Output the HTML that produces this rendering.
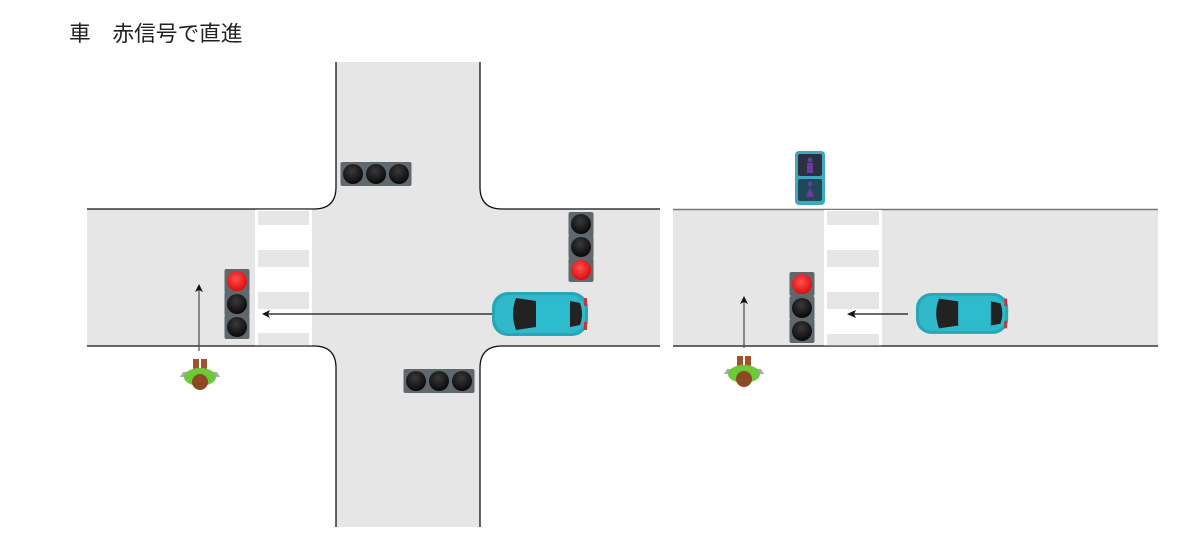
<!DOCTYPE html>
<html><head><meta charset="utf-8"><style>
html,body{margin:0;padding:0;background:#fff;width:1200px;height:560px;overflow:hidden}
</style></head><body>
<svg width="1200" height="560" viewBox="0 0 1200 560" xmlns="http://www.w3.org/2000/svg">
<defs>
  <radialGradient id="blk" cx="0.45" cy="0.35" r="0.7"><stop offset="0" stop-color="#3a3a3a"/><stop offset="1" stop-color="#050505"/></radialGradient>
  <radialGradient id="red" cx="0.45" cy="0.4" r="0.7"><stop offset="0" stop-color="#ff5050"/><stop offset="1" stop-color="#d80000"/></radialGradient>
  <g id="lamp"><rect x="-12.5" y="-12" width="25" height="24" rx="2" fill="#5f686c"/><circle r="10" fill="url(#blk)"/></g>
  <g id="lampR"><rect x="-12.5" y="-12" width="25" height="24" rx="2" fill="#5f686c"/><circle r="10" fill="url(#red)"/></g>
  <g id="car">
    <rect x="0" y="0" width="96" height="44" rx="16" fill="#27a6b8"/>
    <rect x="3" y="3" width="90" height="38" rx="14" fill="#2fb9cb"/>
    <path d="M24 6 L44 9 L44 35 L24 38 Q18 22 24 6Z" fill="#222"/>
    <rect x="44" y="9" width="34" height="26" rx="3" fill="#2cbccd"/>
    <path d="M78 9 L88 11 Q92 22 88 33 L78 35Z" fill="#222"/>
    <rect x="92" y="6" width="3" height="8" fill="#c33"/><rect x="92" y="30" width="3" height="8" fill="#c33"/>
  </g>
  <g id="ped">
    <path d="M-17 0 L17 0 L20 5 L-20 5Z" fill="#aaa"/>
    <rect x="-7" y="-13" width="6" height="11" fill="#a0522d"/><rect x="1" y="-13" width="6" height="11" fill="#a0522d"/>
    <ellipse cx="0" cy="5" rx="16" ry="9" fill="#6bc93a"/>
    <circle cx="0" cy="10" r="8" fill="#8b4a22"/>
  </g>
</defs>
<text x="69" y="41" font-family="'Liberation Sans','Noto Sans CJK JP',sans-serif" font-size="21.7" fill="#222">車　赤信号で直進</text>

<path d="M87 209 L314 209 Q336 209 336 187 L336 62 L480 62 L480 187 Q480 209 502 209 L660 209 L660 346 L502 346 Q480 346 480 368 L480 527 L336 527 L336 368 Q336 346 314 346 L87 346Z" fill="#e6e6e6"/>
<path d="M87 209 L314 209 Q336 209 336 187 L336 62 M480 62 L480 187 Q480 209 502 209 L660 209 M660 346 L502 346 Q480 346 480 368 L480 527 M336 527 L336 368 Q336 346 314 346 L87 346" fill="none" stroke="#111" stroke-width="1.3"/>
<rect x="255" y="209.7" width="57" height="135.6" fill="#fff"/>
<g fill="#e6e6e6"><rect x="258" y="211" width="51" height="14"/><rect x="258" y="250" width="51" height="17"/><rect x="258" y="292" width="51" height="17"/><rect x="258" y="333" width="51" height="12"/></g>

<rect x="673" y="209" width="485" height="137" fill="#e6e6e6"/>
<line x1="673" y1="209.5" x2="1158" y2="209.5" stroke="#777" stroke-width="1.5"/>
<line x1="673" y1="346" x2="1158" y2="346" stroke="#111" stroke-width="1.3"/>
<rect x="824" y="210" width="58" height="135.5" fill="#fff"/>
<g fill="#e6e6e6"><rect x="827" y="211" width="52" height="14"/><rect x="827" y="250" width="52" height="17"/><rect x="827" y="292" width="52" height="17"/><rect x="827" y="334" width="52" height="11"/></g>

<use href="#lamp" x="353" y="174"/><use href="#lamp" x="376" y="174"/><use href="#lamp" x="399" y="174"/>
<use href="#lamp" x="416" y="381"/><use href="#lamp" x="439" y="381"/><use href="#lamp" x="462" y="381"/>
<use href="#lamp" x="581" y="224"/><use href="#lamp" x="581" y="247"/><use href="#lampR" x="581" y="270"/>
<use href="#lampR" x="237" y="281"/><use href="#lamp" x="237" y="304"/><use href="#lamp" x="237" y="327"/>
<use href="#lampR" x="802" y="284"/><use href="#lamp" x="802" y="308"/><use href="#lamp" x="802" y="331"/>
<rect x="795" y="151" width="30" height="54" rx="4" fill="#3fa8c0"/>
<rect x="798" y="154" width="24" height="22" rx="2" fill="#2a3040"/>
<rect x="798" y="179" width="24" height="22" rx="2" fill="#1f4a55"/>
<circle cx="810" cy="160" r="2.5" fill="#6a3aa0"/><rect x="807" y="163" width="6" height="10" fill="#6a3aa0"/>
<circle cx="810" cy="184" r="2.5" fill="#6a3aa0"/><path d="M806 197 L810 187 L814 197Z" fill="#6a3aa0"/>

<use href="#car" x="492" y="292"/>
<g transform="translate(916 293) scale(0.96 0.93)"><use href="#car"/></g>

<g stroke="#111" stroke-width="1.3" fill="none">
<line x1="492" y1="314" x2="268" y2="314"/>
<line x1="908" y1="314" x2="854" y2="314"/>
<line x1="199" y1="351" x2="199" y2="290" stroke="#555"/>
<line x1="744" y1="348" x2="744" y2="302" stroke="#555"/>
</g>
<g fill="#111">
<path d="M262 314 L270 310 L268 314 L270 318Z"/>
<path d="M847 314 L856 310 L854 314 L856 318Z"/>
<path d="M199 284 L195 292 L199 290 L203 292Z"/>
<path d="M744 296 L740 304 L744 302 L748 304Z"/>
</g>
<use href="#ped" x="200" y="372"/>
<use href="#ped" x="744" y="369"/>
</svg>
</body></html>
